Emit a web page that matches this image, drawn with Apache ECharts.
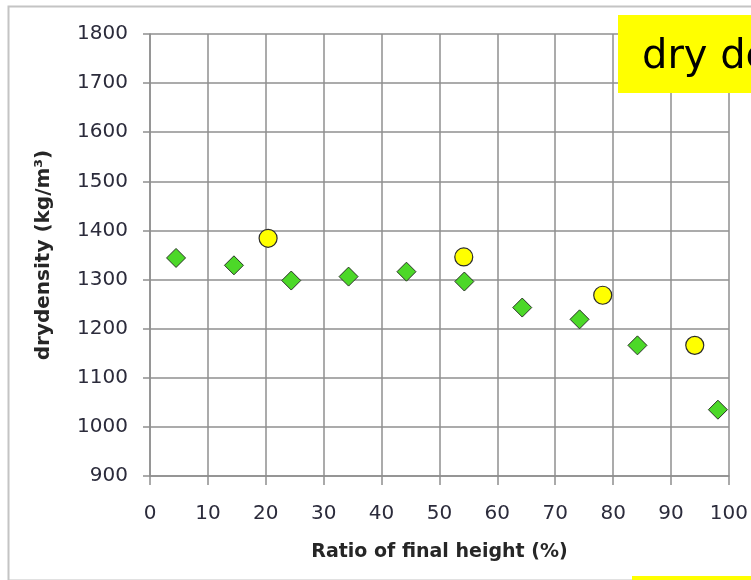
<!DOCTYPE html>
<html>
<head>
<meta charset="utf-8">
<script src="https://cdn.jsdelivr.net/npm/echarts@6/dist/echarts.min.js"></script>
<style>html,body{margin:0;padding:0;background:#fff}#c{width:751px;height:580px}</style>
</head>
<body>
<div id="c"></div>
<script>
// Series: green diamonds
var diamondX = [4.5, 14.5, 24.4, 34.3, 44.3, 54.3, 64.3, 74.2, 84.2, 98.1];
var diamondY = [1344, 1329, 1298, 1306, 1316, 1296, 1243, 1219, 1166, 1035];
// Series: yellow circles
var circleX = [20.4, 54.2, 78.2, 94.1];
var circleY = [1384, 1346, 1268, 1166];
// Axes
var xTicks = [0, 10, 20, 30, 40, 50, 60, 70, 80, 90, 100];
var yTicks = [900, 1000, 1100, 1200, 1300, 1400, 1500, 1600, 1700, 1800];
var xTitle = 'Ratio of final height (%)';
var yTitle = 'drydensity (kg/m\u00b3)';
var boxText = 'dry density';

function pairs(xs, ys) { return xs.map(function (x, i) { return [x, ys[i]]; }); }

var chart = echarts.init(document.getElementById('c'), null, { renderer: 'canvas' });
var gridColor = '#8f8f8f';
var labelStyle = { color: '#2b2b3b', fontFamily: '"DejaVu Sans", sans-serif', fontSize: 20, formatter: function (v) { return String(v); } };
chart.setOption({
  animation: false,
  backgroundColor: '#ffffff',
  grid: { left: 150, right: 20, top: 34, bottom: 104, containLabel: false },
  xAxis: {
    type: 'value', min: xTicks[0], max: xTicks[xTicks.length - 1], interval: 10,
    name: xTitle, nameLocation: 'middle', nameGap: 67,
    nameTextStyle: { color: '#262626', fontFamily: '"DejaVu Sans", sans-serif', fontWeight: 'bold', fontSize: 19 },
    axisLine: { show: true, lineStyle: { color: gridColor, width: 1.5 } },
    axisTick: { show: true, inside: false, length: 9, lineStyle: { color: gridColor, width: 1.5 } },
    axisLabel: Object.assign({ margin: 28 }, labelStyle),
    splitLine: { show: true, lineStyle: { color: gridColor, width: 1.5 } }
  },
  yAxis: {
    type: 'value', min: yTicks[0], max: yTicks[yTicks.length - 1], interval: 100,
    name: yTitle, nameLocation: 'middle', nameGap: 96, nameRotate: 90,
    nameTextStyle: { color: '#262626', fontFamily: '"DejaVu Sans", sans-serif', fontWeight: 'bold', fontSize: 20 },
    axisLine: { show: true, lineStyle: { color: gridColor, width: 1.5 } },
    axisTick: { show: true, inside: false, length: 7, lineStyle: { color: gridColor, width: 1.5 } },
    axisLabel: Object.assign({ margin: 22 }, labelStyle),
    splitLine: { show: true, lineStyle: { color: gridColor, width: 1.5 } }
  },
  series: [
    {
      type: 'scatter', name: 'diamond', symbol: 'diamond', symbolSize: 19,
      itemStyle: { color: '#4cd828', borderColor: '#2a3327', borderWidth: 1, opacity: 1 },
      data: pairs(diamondX, diamondY), z: 3
    },
    {
      type: 'scatter', name: 'circle', symbol: 'circle', symbolSize: 18,
      itemStyle: { color: '#ffff00', borderColor: '#2b2b2b', borderWidth: 1.2, opacity: 1 },
      data: pairs(circleX, circleY), z: 4
    }
  ],
  graphic: [
    { type: 'rect', left: 6, top: 4, shape: { width: 800, height: 574 }, style: { fill: null, stroke: '#c4c4c4', lineWidth: 2 }, z: 10 },
    { type: 'rect', left: 618, top: 15, shape: { width: 140, height: 78 }, style: { fill: '#ffff00' }, z: 11 },
    { type: 'text', left: 642, top: 38, style: { text: boxText, fill: '#000', font: '40px "DejaVu Sans", sans-serif' }, z: 12 },
    { type: 'rect', left: 632, top: 576, shape: { width: 130, height: 6 }, style: { fill: '#ffff00' }, z: 11 }
  ]
});
</script>
</body>
</html>
